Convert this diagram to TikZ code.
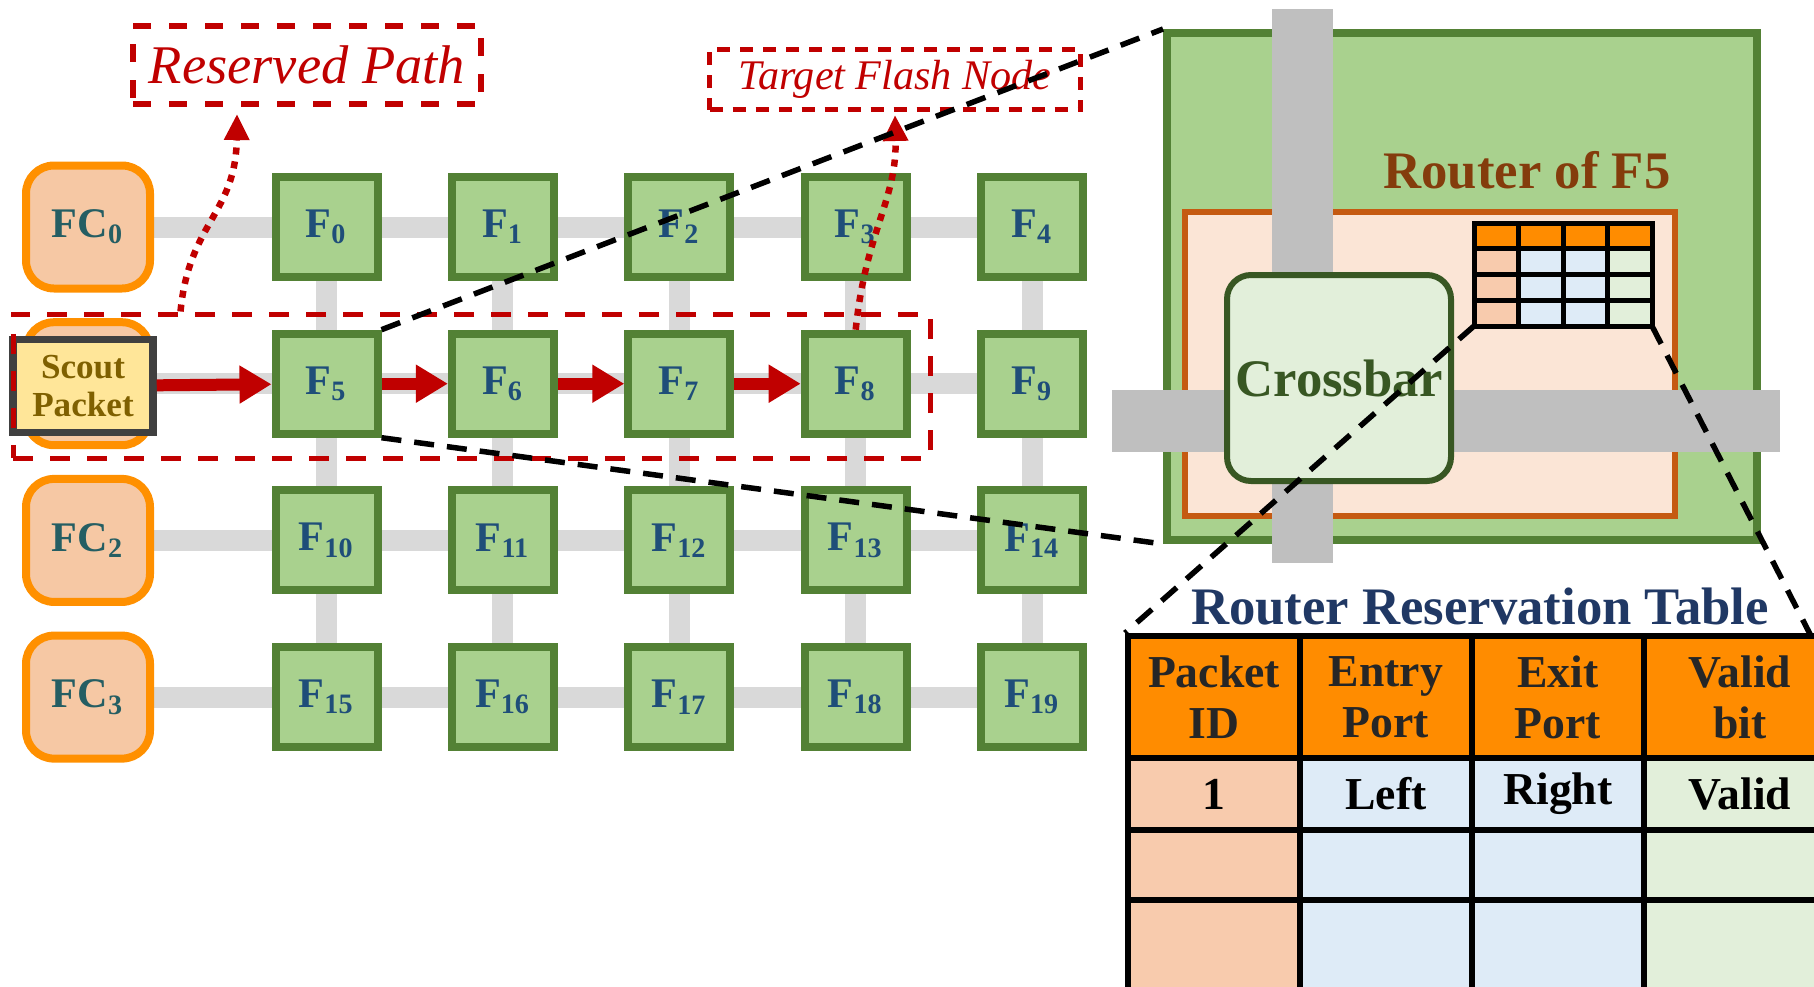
\documentclass[tikz,border=0pt]{standalone}
\usepackage{fontspec}
\setmainfont{Liberation Serif}
\usepackage{xcolor}
\usepackage{tikz}
\usetikzlibrary{arrows.meta,positioning,backgrounds,calc}
\definecolor{flashgreen}{HTML}{A9D18E}
\definecolor{flashedge}{HTML}{538135}
\definecolor{flashtext}{HTML}{1F4E79}
\definecolor{fcfill}{HTML}{F6C8A4}
\definecolor{fcedge}{HTML}{FF9000}
\definecolor{fctext}{HTML}{255E63}
\definecolor{linkgray}{HTML}{D9D9D9}
\definecolor{bargray}{HTML}{BFBFBF}
\definecolor{pathred}{HTML}{C00000}
\definecolor{scoutfill}{HTML}{FFE699}
\definecolor{scoutedge}{HTML}{404040}
\definecolor{scouttext}{HTML}{7F6000}
\definecolor{innerfill}{HTML}{FBE5D6}
\definecolor{inneredge}{HTML}{C55A11}
\definecolor{routertext}{HTML}{843C0C}
\definecolor{xbarfill}{HTML}{E2EFDA}
\definecolor{xbaredge}{HTML}{385723}
\definecolor{hdrorange}{HTML}{FF8C00}
\definecolor{cellpeach}{HTML}{F8CBAD}
\definecolor{cellblue}{HTML}{DEEBF7}
\definecolor{cellgreen}{HTML}{E2EFDA}
\definecolor{tabletitle}{HTML}{203864}

\begin{document}
\begin{tikzpicture}[x=0.1mm,y=-0.1mm,
  flash/.style={draw=flashedge,fill=flashgreen,line width=0.8mm,
    minimum width=10.2mm,minimum height=10mm,inner sep=0pt,
    text=flashtext,font=\fontsize{12pt}{13pt}\selectfont\bfseries},
  fcnode/.style={draw=fcedge,fill=fcfill,line width=0.8mm,rounded corners=2.8mm,
    minimum width=12.4mm,minimum height=12.3mm,inner sep=0pt,
    text=fctext,font=\fontsize{12pt}{13pt}\selectfont\bfseries},
  link/.style={linkgray,line width=2.1mm},
  hop/.style={pathred,line width=1.2mm,-{Triangle[length=3.2mm,width=3.6mm]}},
  hint/.style={pathred,line width=0.65mm,dash pattern=on 0.7mm off 0.7mm,
    -{Triangle[length=2.6mm,width=2.4mm]}},
  tag/.style={draw=pathred,line width=0.55mm,text=pathred,inner sep=0pt},
  zoomline/.style={black,line width=0.55mm,dash pattern=on 2mm off 1.3mm},
  tcell/.style={draw=black,line width=0.6mm,minimum width=17.2mm,inner sep=0pt,
    align=center,font=\fontsize{13pt}{14.5pt}\selectfont\bfseries}
]
  \useasboundingbox (0,0) rectangle (1814,986);
  % Flash mesh: 4 rows x 5 columns
  \def\xo{326.5}   % x of column 0
  \def\yo{227}     % y of row 0
  \def\cs{176.4}   % column spacing
  \def\rs{156.7}   % row spacing
  % --- Flash controllers (FC1 sits under the scout packet) ---
  \foreach \r/\lbl in {0/{FC\textsubscript{0}},1/{},2/{FC\textsubscript{2}},3/{FC\textsubscript{3}}}
    \node[fcnode] (FC\r) at (88,\yo+\r*\rs) {\lbl};
  % --- Flash nodes ---
  \foreach \r in {0,...,3} {
    \foreach \c in {0,...,4} {
      \pgfmathtruncatemacro{\n}{5*\r+\c}
      \node[flash] (F\n) at (\xo+\c*\cs,\yo+\r*\rs) {F\textsubscript{\n}};
    }
  }
  % --- Links (behind the nodes) ---
  \begin{scope}[on background layer]
    \foreach \r in {0,...,3} {
      \pgfmathtruncatemacro{\m}{5*\r+4}
      \draw[link] (FC\r.center) -- (F\m.center);
    }
    \foreach \c in {0,...,4} {
      \pgfmathtruncatemacro{\m}{15+\c}
      \draw[link] (F\c.center) -- (F\m.center);
    }
  \end{scope}
  % --- Scout packet and reserved path ---
  \node[draw=scoutedge,fill=scoutfill,line width=0.75mm,minimum width=14mm,
    minimum height=9.3mm,inner sep=0pt,align=center,text=scouttext,
    font=\fontsize{10pt}{10.8pt}\selectfont\bfseries] (scout) at (83,386)
    {Scout\\Packet};
  \foreach \a/\b in {scout/F5,F5/F6,F6/F7,F7/F8}
    \draw[hop] (\a) -- (\b);
  \node[draw=pathred,line width=0.5mm,dash pattern=on 2mm off 1.7mm,
    minimum width=91.7mm,minimum height=14.4mm,inner sep=0pt] (resv)
    at (471.5,386) {};
  % --- Labels ---
  \node[tag,line width=0.6mm,dash pattern=on 1.8mm off 1.8mm,minimum width=34.8mm,
    minimum height=7.8mm,font=\fontsize{15.5pt}{16pt}\selectfont\itshape] (rp)
    at (307,65) {Reserved Path};
  \node[tag,line width=0.5mm,dash pattern=on 1.3mm off 1mm,minimum width=37.1mm,
    minimum height=6mm,font=\fontsize{12pt}{13pt}\selectfont\itshape] (tfn)
    at (895,79.5) {Target Flash Node};
  \draw[hint] ($(resv.north west)+(170,0)$) .. controls (189,222) and (236,214)
    .. ([xshift=-7mm,yshift=-0.7mm]rp.south);
  \draw[hint] (F8.north) .. controls (866,230) and (897,200)
    .. ([yshift=-0.3mm]tfn.south);
  % --- Router of F5 (zoomed) ---
  \node[draw=flashedge,fill=flashgreen,line width=0.8mm,minimum width=59mm,
    minimum height=50.7mm,inner sep=0pt] (router) at (1462,286.5) {};
  \node[draw=inneredge,fill=innerfill,line width=0.6mm,minimum width=49mm,
    minimum height=30.4mm,inner sep=0pt] (rinner) at (1430,364) {};
  \fill[bargray] (1272,9) rectangle (1333,563);
  \fill[bargray] (1112,390) rectangle (1780,452);
  \node[text=routertext,font=\fontsize{15pt}{16pt}\selectfont\bfseries]
    (rtitle) at (1527,170) {Router of F5};
  \node[draw=xbaredge,fill=xbarfill,line width=0.6mm,rounded corners=2.4mm,
    minimum width=22.4mm,minimum height=20.6mm,inner sep=0pt,text=xbaredge,
    font=\fontsize{15pt}{16pt}\selectfont\bfseries] (xbar) at (1339,378)
    {Crossbar};
  % mini reservation table
  \node[minimum width=17.8mm,minimum height=10.3mm,inner sep=0pt,outer sep=0pt]
    (mini) at (1563,274.5) {};
  \foreach \r in {0,...,3} {
    \foreach \c/\col in {0/cellpeach,1/cellblue,2/cellblue,3/cellgreen} {
      \ifnum\r=0 \def\cc{hdrorange}\else\def\cc{\col}\fi
      \filldraw[fill=\cc,draw=black,line width=0.5mm]
        ($(mini.north west)+(\c*44.5,\r*25.75)$) rectangle ++(44.5,25.75);
    }
  }
  % --- Router Reservation Table ---
  \node[text=tabletitle,font=\fontsize{15pt}{16pt}\selectfont\bfseries]
    (rrt) at (1480,607) {Router Reservation Table};
  \foreach \c/\xc/\cw/\txt in {0/1214/17.2/{Packet\\ID},1/1386/17.2/{Entry\\Port},
      2/1558/17.2/{Exit\\Port},3/1740/19.2/{Valid\\bit}}
    \node[tcell,fill=hdrorange,minimum width=\cw mm,minimum height=12.2mm,
      text=black!85] (h\c) at (\xc,697) {\txt};
  \node[tcell,fill=cellpeach,minimum height=7.2mm] (b0) at (1214,794) {1};
  \node[tcell,fill=cellblue,minimum height=7.2mm] (b1) at (1386,794) {Left};
  \node[tcell,fill=cellblue,minimum height=7.2mm] (b2) at (1558,794) {Right};
  \node[tcell,fill=cellgreen,minimum height=7.2mm,minimum width=19.2mm]
    (b3) at (1740,794) {Valid};
  \foreach \r/\yc/\rh in {2/865/7,3/950/10} {
    \foreach \c/\xc/\cw/\col in {0/1214/17.2/cellpeach,1/1386/17.2/cellblue,
        2/1558/17.2/cellblue,3/1740/19.2/cellgreen}
      \node[tcell,fill=\col,minimum width=\cw mm,minimum height=\rh mm]
        (e\r\c) at (\xc,\yc) {};
  }
  \coordinate (tabTR) at (1811,636);
  % --- Zoom lines ---
  \draw[zoomline] (F5.north east) -- (router.north west);
  \draw[zoomline] (F5.south east) -- (router.south west);
  \draw[zoomline] (mini.south west) -- (h0.north west);
  \draw[zoomline] (mini.south east) -- (tabTR);
\end{tikzpicture}
\end{document}
